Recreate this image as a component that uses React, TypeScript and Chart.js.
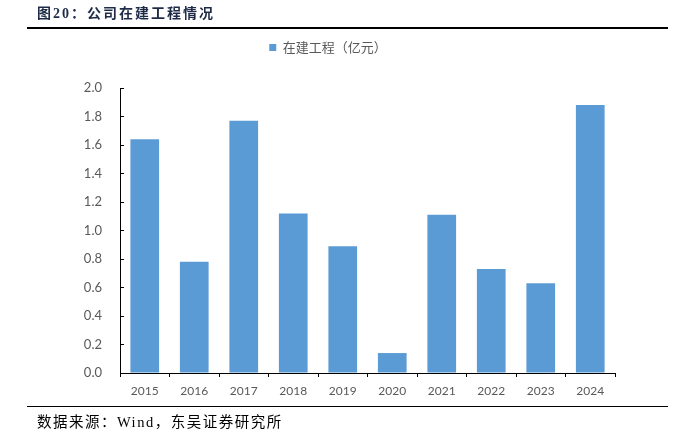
import React, { useEffect, useRef } from 'react';
import { Chart, registerables } from 'chart.js';

Chart.register(...registerables);

const categories = ['2015', '2016', '2017', '2018', '2019', '2020', '2021', '2022', '2023', '2024'];
const values = [1.64, 0.78, 1.77, 1.12, 0.89, 0.14, 1.11, 0.73, 0.63, 1.88];
const seriesName = '在建工程（亿元）';
const yMin = 0;
const yMax = 2.0;
const yStep = 0.2;
const titleText = '图20：公司在建工程情况';
const sourceText = '数据来源：Wind，东吴证券研究所';

const BAR_COLOR = '#5B9BD5';
const TICK_COLOR = '#595959';

// adds extra space below the legend so the plot area starts lower
const legendGap = {
  id: 'legendGap',
  beforeUpdate(chart: any) {
    const l = chart.legend;
    if (l && !l._gapPatched) {
      const orig = l.fit;
      l.fit = function () {
        orig.call(this);
        this.height += 24;
      };
      l._gapPatched = true;
    }
  },
};

export default function App() {
  const canvasRef = useRef<HTMLCanvasElement | null>(null);

  useEffect(() => {
    document.body.style.margin = '0';
    const canvas = canvasRef.current;
    if (!canvas) return;
    const chart = new Chart(canvas, {
      type: 'bar',
      data: {
        labels: categories,
        datasets: [
          {
            label: seriesName,
            data: values,
            backgroundColor: BAR_COLOR,
            borderWidth: 0,
            categoryPercentage: 1,
            barPercentage: 0.58,
          },
        ],
      },
      plugins: [legendGap],
      options: {
        animation: false,
        responsive: false,
        maintainAspectRatio: false,
        devicePixelRatio: 1,
        layout: { padding: { left: 41, right: 61, top: 31, bottom: 39 } },
        plugins: {
          tooltip: { enabled: false },
          title: { display: false },
          legend: {
            display: true,
            position: 'top',
            align: 'center',
            labels: {
              boxWidth: 7,
              boxHeight: 7,
              color: TICK_COLOR,
              padding: 10,
              font: { family: "'Noto Sans CJK SC', sans-serif", size: 13 },
            },
          },
        },
        scales: {
          x: {
            type: 'category',
            offset: true,
            grid: {
              offset: true,
              drawOnChartArea: false,
              drawTicks: true,
              tickLength: 4,
              color: '#000',
              lineWidth: 1,
            },
            border: { display: true, color: '#000', width: 1 },
            ticks: {
              color: TICK_COLOR,
              padding: 7,
              font: { family: "Lato, 'Liberation Sans', sans-serif", size: 12 },
              maxRotation: 0,
              autoSkip: false,
            },
            afterFit: (scale: any) => {
              scale.height = 30;
            },
          },
          y: {
            type: 'linear',
            min: yMin,
            max: yMax,
            grid: {
              drawOnChartArea: false,
              drawTicks: true,
              tickLength: -4,
              color: '#000',
              lineWidth: 1,
            },
            border: { display: true, color: '#000', width: 1 },
            ticks: {
              stepSize: yStep,
              color: TICK_COLOR,
              padding: 22,
              font: { family: "Lato, 'Liberation Sans', sans-serif", size: 13 },
              callback: (v: any) => Number(v).toFixed(1),
            },
            afterFit: (scale: any) => {
              scale.width = 79;
            },
          },
        },
      },
    });
    return () => chart.destroy();
  }, []);

  return (
    <div style={{ position: 'relative', width: 676, height: 442, background: '#fff', overflow: 'hidden' }}>
      <canvas ref={canvasRef} width={676} height={442} style={{ position: 'absolute', left: 0, top: 0, width: 676, height: 442 }} />
      <div
        style={{
          position: 'absolute',
          left: 37,
          top: 5,
          fontFamily: "'Liberation Serif', 'Noto Sans CJK SC', serif",
          fontWeight: 'bold',
          fontSize: 14,
          letterSpacing: 2,
          color: '#1E2B47',
          whiteSpace: 'nowrap',
          lineHeight: '18px',
        }}
      >
        {titleText}
      </div>
      <div style={{ position: 'absolute', left: 27, top: 27, width: 641, height: 0, borderTop: '2px solid #000' }} />
      <div style={{ position: 'absolute', left: 27, top: 406, width: 641, height: 0, borderTop: '1.5px solid #000' }} />
      <div
        style={{
          position: 'absolute',
          left: 37,
          top: 412,
          fontFamily: "'Liberation Serif', 'Noto Sans CJK SC', serif",
          fontSize: 14.5,
          letterSpacing: 1.5,
          color: '#000',
          whiteSpace: 'nowrap',
          lineHeight: '20px',
        }}
      >
        {sourceText}
      </div>
    </div>
  );
}
